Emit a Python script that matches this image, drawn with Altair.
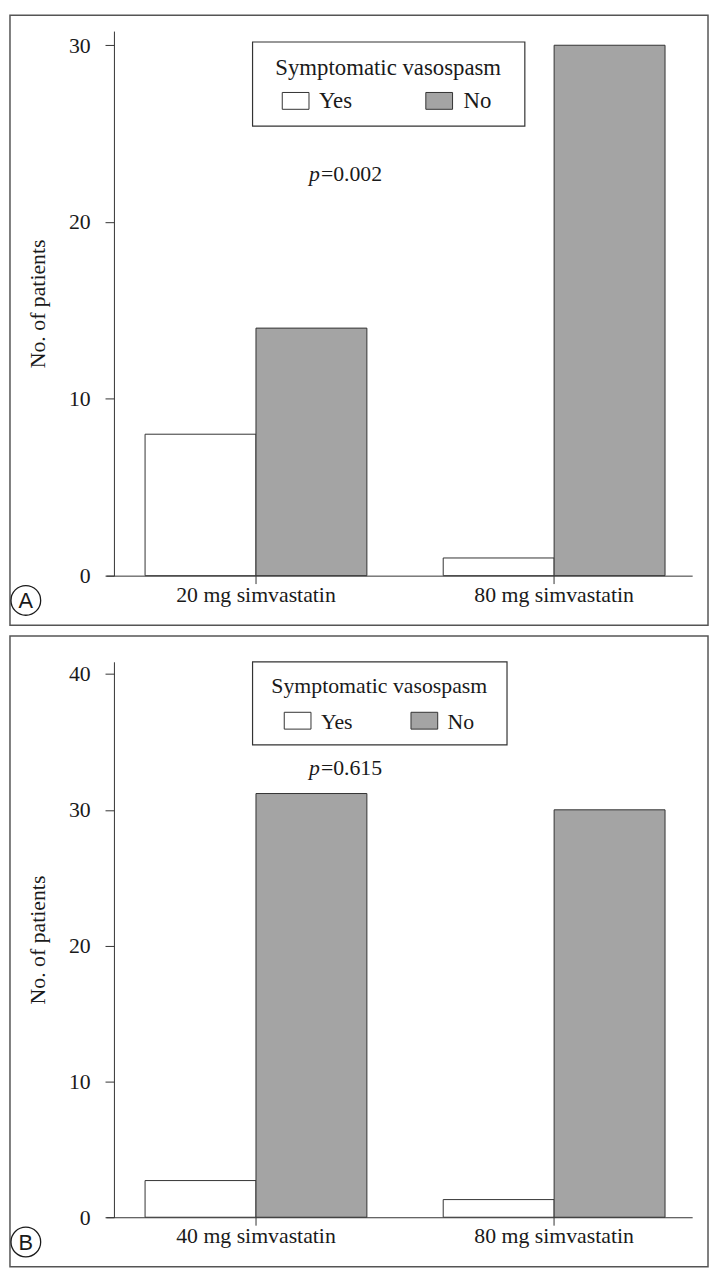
import altair as alt
import pandas as pd

# ---------------- data ----------------
groups = ["Yes", "No"]
fills = ["#ffffff", "#a4a4a4"]

doses_a = ["20 mg simvastatin", "80 mg simvastatin"]
yes_a = [8, 1]
no_a = [14, 30]
ticks_a = [0, 10, 20, 30]
ymax_a = 30.8
p_a = "=0.002"

doses_b = ["40 mg simvastatin", "80 mg simvastatin"]
yes_b = [2.7, 1.3]
no_b = [31.2, 30]
ticks_b = [0, 10, 20, 30, 40]
ymax_b = 40.9
p_b = "=0.615"

legend_title = "Symptomatic vasospasm"
y_title = "No. of patients"

# ---------------- style ----------------
SERIF = "Liberation Serif"
SANS = "Liberation Sans"
INK = "#1a1a1a"
LINE = "#333333"
W = 592


def long_table(doses, yes, no):
    rows = []
    for d, y, n in zip(doses, yes, no):
        rows.append({"dose": d, "group": groups[0], "count": y})
        rows.append({"dose": d, "group": groups[1], "count": n})
    return pd.DataFrame(rows)


one = pd.DataFrame({"k": [0]})


def panel(doses, yes, no, ticks, ymax, H, top, p_text, p_xy, leg, letter):
    df = long_table(doses, yes, no)
    bars = alt.Chart(df).mark_bar(stroke=LINE, strokeWidth=1).encode(
        x=alt.X(
            "dose:N", sort=doses, title=None,
            scale=alt.Scale(paddingInner=0.256, paddingOuter=0.111, align=0.59),
            axis=alt.Axis(labelAngle=0, labelFont=SERIF, labelFontSize=22, labelColor=INK,
                          labelBaseline="alphabetic", labelPadding=18, tickSize=8,
                          tickColor=LINE, domainColor=LINE, labelLimit=0),
        ),
        xOffset=alt.XOffset("group:N", sort=groups,
                            scale=alt.Scale(paddingInner=0, paddingOuter=0)),
        y=alt.Y(
            "count:Q", title=y_title,
            scale=alt.Scale(domain=[0, ymax], nice=False, zero=True),
            axis=alt.Axis(values=ticks, format="d", offset=-8, tickSize=9, labelPadding=15,
                          labelFont=SERIF, labelFontSize=22, labelColor=INK,
                          tickColor=LINE, domainColor=LINE,
                          titleFont=SERIF, titleFontSize=22, titleFontWeight="normal",
                          titleColor=INK, titleAngle=270, titleX=-70, titleY=H / 2,
                          titleAlign="center", titleBaseline="alphabetic"),
        ),
        fill=alt.Fill("group:N", sort=groups,
                      scale=alt.Scale(domain=groups, range=fills), legend=None),
    )

    frame = alt.Chart(one).mark_rect(fill="transparent", stroke="#555555", strokeWidth=1.5).encode(
        x=alt.value(-97), x2=alt.value(W + 16), y=alt.value(-top), y2=alt.value(H + 50))

    bx0, by0, bx1, by1 = leg["box"]
    box = alt.Chart(one).mark_rect(fill="transparent", stroke=LINE, strokeWidth=1.2).encode(
        x=alt.value(bx0), x2=alt.value(bx1), y=alt.value(by0), y2=alt.value(by1))
    ttl = alt.Chart(one).mark_text(text=legend_title, font=SERIF, fontSize=leg["fs"], color=INK,
                                   align="center", baseline="alphabetic").encode(
        x=alt.value(leg["tx"]), y=alt.value(leg["ty"]))
    layers = [frame, bars, box, ttl]
    for g, f, sx, lx in zip(groups, fills, leg["sx"], leg["lx"]):
        layers.append(alt.Chart(one).mark_rect(fill=f, stroke=LINE, strokeWidth=1).encode(
            x=alt.value(sx), x2=alt.value(sx + 27), y=alt.value(leg["sy"]), y2=alt.value(leg["sy"] + 17)))
        layers.append(alt.Chart(one).mark_text(text=g, font=SERIF, fontSize=leg["fs"], color=INK,
                                               align="left", baseline="alphabetic").encode(
            x=alt.value(lx), y=alt.value(leg["ly"])))

    px, py = p_xy
    layers.append(alt.Chart(one).mark_text(text="p", font=SERIF, fontSize=22, fontStyle="italic",
                                           color=INK, align="right", baseline="alphabetic").encode(
        x=alt.value(px), y=alt.value(py)))
    layers.append(alt.Chart(one).mark_text(text=p_text, font=SERIF, fontSize=22, color=INK,
                                           align="left", baseline="alphabetic").encode(
        x=alt.value(px + 1), y=alt.value(py)))

    layers.append(alt.Chart(one).mark_point(shape="circle", size=900, filled=False, color=INK,
                                            strokeWidth=1.3, opacity=1).encode(
        x=alt.value(-81), y=alt.value(H + 25)))
    layers.append(alt.Chart(one).mark_text(text=letter, font=SANS, fontSize=22, color=INK,
                                           align="center", baseline="middle").encode(
        x=alt.value(-81), y=alt.value(H + 26)))

    return alt.layer(*layers).properties(width=W, height=H)


HA = 550
HB = 561

leg_a = {"box": (148, 11, 423, 96), "fs": 23, "tx": 285, "ty": 44,
         "sx": [178, 323], "sy": 62, "lx": [215, 361], "ly": 78}
leg_b = {"box": (148, 0, 405, 84), "fs": 22, "tx": 276, "ty": 32,
         "sx": [180, 308], "sy": 51, "lx": [217, 345], "ly": 68}

panel_a = panel(doses_a, yes_a, no_a, ticks_a, ymax_a, HA, 16, p_a, (216, 151), leg_a, "A")
panel_b = panel(doses_b, yes_b, no_b, ticks_b, ymax_b, HB, 26, p_b, (216, 114), leg_b, "B")

chart = (
    alt.vconcat(panel_a, panel_b, spacing=9)
    .resolve_scale(x="independent", y="independent")
    .properties(padding=0)
    .configure_view(stroke=None)
    .configure_axis(grid=False)
)

chart.save("out.html", embed_options={"renderer": "svg", "actions": False})
